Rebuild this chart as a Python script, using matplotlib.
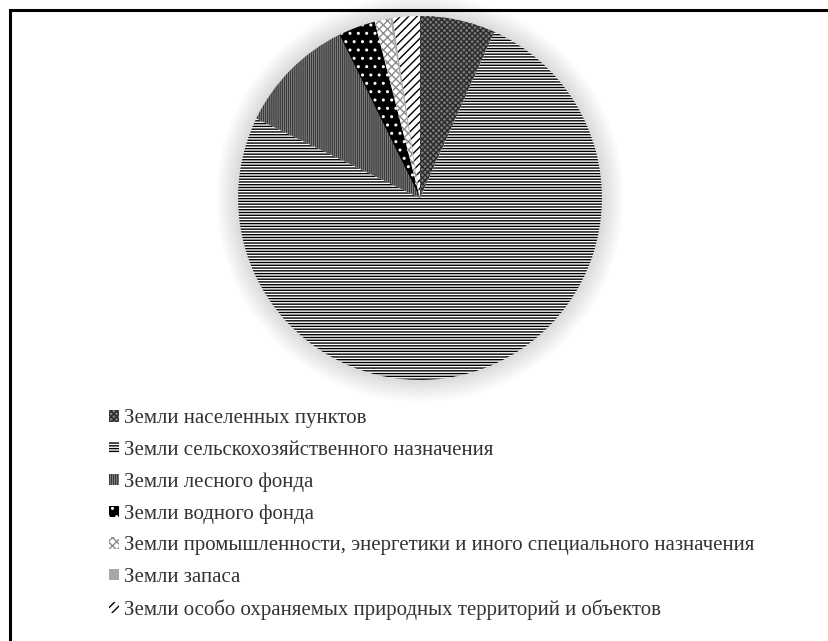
import matplotlib
matplotlib.use("Agg")
import matplotlib.pyplot as plt
from matplotlib.patches import Circle
from matplotlib.lines import Line2D

# категории земельного фонда и их доли, %
labels = [
    "Земли населенных пунктов",
    "Земли сельскохозяйственного назначения",
    "Земли лесного фонда",
    "Земли водного фонда",
    "Земли промышленности, энергетики и иного специального назначения",
    "Земли запаса",
    "Земли особо охраняемых природных территорий и объектов",
]
shares = [6.7, 75.5, 10.5, 3.3, 1.4, 0.2, 2.4]

faces = ["#7a7a7a", "white", "#9a9a9a", "black", "white", "#a8a8a8", "white"]
hatch_colors = ["#2a2a2a", "black", "#3a3a3a", "white", "#8c8c8c", "#a8a8a8", "black"]
hatches = ["xxxxxx", "------", "||||||||", "..", "xxxx", "", "////"]

plt.rcParams["hatch.linewidth"] = 1.0

fig = plt.figure(figsize=(8.29, 6.41), dpi=100)
W, H = 829, 641
cx, cy, r = 420, 198, 182
lim = 1.15
R = r * lim
ax = fig.add_axes([(cx - R) / W, (H - cy - R) / H, 2 * R / W, 2 * R / H])

# мягкая тень вокруг круга
for k in range(12):
    ax.add_patch(Circle((0, 0), 1.0 + 0.01 * (k + 1), color="black",
                        alpha=0.012, lw=0, zorder=0))

wedges, _ = ax.pie(shares, startangle=90, counterclock=False, radius=1,
                   wedgeprops=dict(linewidth=0))
for w, fc, hc, h in zip(wedges, faces, hatch_colors, hatches):
    w.set_facecolor(fc)
    w.set_edgecolor(hc)
    w.set_hatch(h)
    w.set_linewidth(0)
    w.set_zorder(2)
ax.set_aspect("equal")
ax.axis("off")
ax.set_xlim(-lim, lim)
ax.set_ylim(-lim, lim)

leg = fig.legend(wedges, labels, loc="upper left",
                 bbox_to_anchor=(101 / W, 1 - 401 / H), frameon=False,
                 prop=dict(family="Liberation Serif", size=15),
                 handlelength=0.45, handleheight=0.45, handletextpad=0.25,
                 labelspacing=0.6, borderaxespad=0)
for t in leg.get_texts():
    t.set_color("#333333")

# рамка (видны только верх и левая сторона)
fig.add_artist(Line2D([10 / W, 10 / W], [0, 1 - 10 / H], color="black", lw=2.2))
fig.add_artist(Line2D([10 / W, 1], [1 - 10 / H, 1 - 10 / H], color="black", lw=2.2))

fig.savefig("out.png", dpi=100, facecolor="white")
